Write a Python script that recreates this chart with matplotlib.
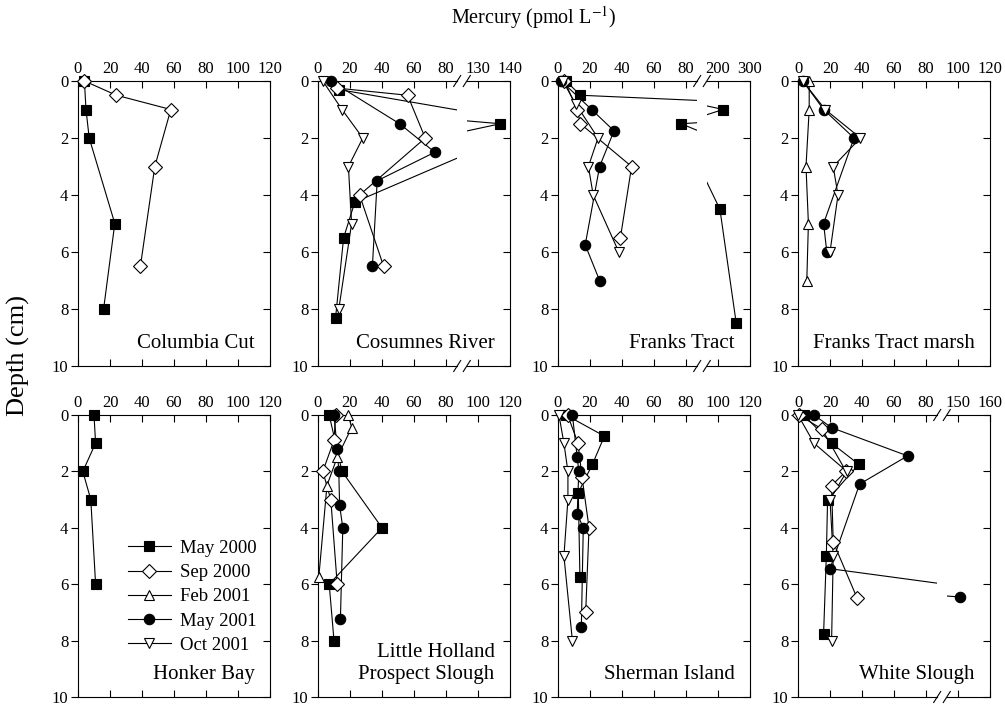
import matplotlib.pyplot as plt
from matplotlib.lines import Line2D

plt.rcParams['font.family'] = ['Liberation Serif', 'DejaVu Serif']
plt.rcParams['mathtext.fontset'] = 'stix'

# sampling campaigns and their symbols
campaigns = ["May 2000", "Sep 2000", "Feb 2001", "May 2001", "Oct 2001"]
markers = ['s', 'D', '^', 'o', 'v']
filled = [True, False, False, True, False]

# --- Hg (pmol/L) and depth (cm) ---
# Columbia Cut
cc_may00_hg = [4, 5, 7, 23, 16]
cc_may00_cm = [0, 1, 2, 5, 8]
cc_sep00_hg = [4, 24, 58, 48, 39]
cc_sep00_cm = [0, 0.5, 1, 3, 6.5]

# Cosumnes River (axis broken at 80 -> 130)
cr_may00_hg = [13, 137, 23, 16, 11]
cr_may00_cm = [0.3, 1.5, 4.25, 5.5, 8.3]
cr_sep00_hg = [12, 56, 67, 26, 41]
cr_sep00_cm = [0.25, 0.5, 2.0, 4.0, 6.5]
cr_may01_hg = [8, 51, 73, 37, 34]
cr_may01_cm = [0, 1.5, 2.5, 3.5, 6.5]
cr_oct01_hg = [3, 15, 28, 19, 21, 13]
cr_oct01_cm = [0, 1, 2, 3, 5, 8]

# Franks Tract (axis broken at 80 -> 200)
ft_may00_hg = [5, 14, 216, 77, 206, 257]
ft_may00_cm = [0, 0.5, 1.0, 1.5, 4.5, 8.5]
ft_sep00_hg = [4, 12, 14, 46, 39]
ft_sep00_cm = [0, 1.0, 1.5, 3.0, 5.5]
ft_may01_hg = [2, 21, 35, 26, 17, 26]
ft_may01_cm = [0, 1.0, 1.75, 3.0, 5.75, 7.0]
ft_oct01_hg = [3, 11, 25, 19, 22, 38]
ft_oct01_cm = [0, 0.8, 2.0, 3.0, 4.0, 6.0]

# Franks Tract marsh
fm_feb01_hg = [7, 7, 5, 6.5, 5.5]
fm_feb01_cm = [0, 1, 3, 5, 7]
fm_may01_hg = [3, 16, 35, 16, 18]
fm_may01_cm = [0, 1, 2, 5, 6]
fm_oct01_hg = [3, 17, 39, 22, 25, 20]
fm_oct01_cm = [0, 1, 2, 3, 4, 6]

# Honker Bay
hb_may00_hg = [10, 11, 3, 8, 11]
hb_may00_cm = [0, 1, 2, 3, 6]

# Little Holland / Prospect Slough
lh_may00_hg = [7, 15, 40, 7, 10]
lh_may00_cm = [0, 2, 4, 6, 8]
lh_sep00_hg = [11, 10, 3, 8, 12]
lh_sep00_cm = [0, 0.9, 2.0, 3.0, 6.0]
lh_feb01_hg = [19, 21, 12, 5.6, 0.5]
lh_feb01_cm = [0, 0.45, 1.5, 2.5, 5.75]
lh_may01_hg = [10, 12, 13, 13.5, 15.5, 14]
lh_may01_cm = [0, 1.2, 2.0, 3.2, 4.0, 7.25]

# Sherman Island
si_may00_hg = [5, 29, 21.5, 12.7, 13.7]
si_may00_cm = [0, 0.75, 1.75, 2.75, 5.75]
si_sep00_hg = [6, 12.5, 15, 19.4, 17.3]
si_sep00_cm = [0, 1, 2.2, 4, 7]
si_may01_hg = [9, 12, 13, 12, 15.8, 14.6]
si_may01_cm = [0, 1.5, 2, 3.5, 4, 7.5]
si_oct01_hg = [0.6, 3.7, 6.2, 6.2, 3.7, 9]
si_oct01_cm = [0, 1, 2, 3, 5, 8]

# White Slough (axis broken at 80 -> 150)
ws_may00_hg = [3.5, 21, 38, 18.5, 17.7, 16]
ws_may00_cm = [0, 1, 1.75, 3, 5, 7.75]
ws_sep00_hg = [0.5, 15, 30, 21, 22, 37]
ws_sep00_cm = [0, 0.5, 2.0, 2.5, 4.5, 6.5]
ws_may01_hg = [10, 21, 68.5, 38.5, 20, 150.5]
ws_may01_cm = [0, 0.45, 1.45, 2.45, 5.45, 6.45]
ws_oct01_hg = [0, 10, 30.5, 20, 22, 21]
ws_oct01_cm = [0, 1, 2, 3, 5, 8]

# site name, {campaign index: (hg, depth)}, tick values after the break
sites = [
    ("Columbia Cut", {0: (cc_may00_hg, cc_may00_cm), 1: (cc_sep00_hg, cc_sep00_cm)}, None),
    ("Cosumnes River", {0: (cr_may00_hg, cr_may00_cm), 1: (cr_sep00_hg, cr_sep00_cm),
                        3: (cr_may01_hg, cr_may01_cm), 4: (cr_oct01_hg, cr_oct01_cm)}, (130, 140)),
    ("Franks Tract", {0: (ft_may00_hg, ft_may00_cm), 1: (ft_sep00_hg, ft_sep00_cm),
                      3: (ft_may01_hg, ft_may01_cm), 4: (ft_oct01_hg, ft_oct01_cm)}, (200, 300)),
    ("Franks Tract marsh", {2: (fm_feb01_hg, fm_feb01_cm), 3: (fm_may01_hg, fm_may01_cm),
                            4: (fm_oct01_hg, fm_oct01_cm)}, None),
    ("Honker Bay", {0: (hb_may00_hg, hb_may00_cm)}, None),
    ("Little Holland\nProspect Slough", {0: (lh_may00_hg, lh_may00_cm), 1: (lh_sep00_hg, lh_sep00_cm),
                                         2: (lh_feb01_hg, lh_feb01_cm), 3: (lh_may01_hg, lh_may01_cm)}, None),
    ("Sherman Island", {0: (si_may00_hg, si_may00_cm), 1: (si_sep00_hg, si_sep00_cm),
                        3: (si_may01_hg, si_may01_cm), 4: (si_oct01_hg, si_oct01_cm)}, None),
    ("White Slough", {0: (ws_may00_hg, ws_may00_cm), 1: (ws_sep00_hg, ws_sep00_cm),
                      3: (ws_may01_hg, ws_may01_cm), 4: (ws_oct01_hg, ws_oct01_cm)}, (150, 160)),
]

FS_TICK = 12
MS = 7.5
BRK_LO, BRK_HI = 87.0, 93.0   # break position in "display units" (full panel = 0..120)


def right_value(d, brk):
    # convert a display position (0..120) into a data value of the right segment
    v100, v120 = brk
    return v100 + (d - 100) * (v120 - v100) / 20.0


def draw_series(ax, series, lo, hi):
    for k, (hg, cm) in series.items():
        ax.plot(hg, cm, '-', color='k', lw=0.8, zorder=2)
        pts = [(x, y) for x, y in zip(hg, cm) if lo - 1e-9 <= x <= hi + 1e-9]
        if not pts:
            continue
        xs, ys = zip(*pts)
        ms = MS - 0.8 if markers[k] == 'D' else MS
        ax.plot(xs, ys, ls='none', marker=markers[k], ms=ms,
                mfc='k' if filled[k] else 'white', mec='k', mew=0.8,
                clip_on=False, zorder=3)


def style_axes(ax, left_labels=True, right_ticks=True):
    ax.set_ylim(10, 0)
    ax.set_yticks([0, 2, 4, 6, 8, 10])
    ax.xaxis.set_ticks_position('both')
    ax.tick_params(axis='x', direction='in', top=True, bottom=True, labeltop=True,
                   labelbottom=False, length=5, width=0.8, pad=3, labelsize=FS_TICK)
    if left_labels:
        ax.tick_params(axis='y', direction='out', left=True, right=False, length=5,
                       width=0.8, pad=2, labelsize=FS_TICK)
    else:
        ax.tick_params(axis='y', left=False, right=False, labelleft=False)
    if right_ticks:
        sec = ax.secondary_yaxis('right')
        sec.set_yticks([0, 2, 4, 6, 8, 10])
        sec.tick_params(direction='in', length=5, width=0.8, labelright=False)
        sec.spines['right'].set_visible(False)
    for s in ax.spines.values():
        s.set_linewidth(0.8)


fig = plt.figure(figsize=(10.05, 7.06), dpi=100)

W = 192 / 1005
lefts = [(78 + 240 * i) / 1005 for i in range(4)]
rows = [((706 - 366) / 706, 285 / 706), ((706 - 697) / 706, 282 / 706)]

for idx, (name, series, brk) in enumerate(sites):
    x0 = lefts[idx % 4]
    y0, H = rows[idx // 4]
    if brk is None:
        ax = fig.add_axes([x0, y0, W, H])
        draw_series(ax, series, 0, 120)
        ax.set_xlim(0, 120)
        ax.set_xticks([0, 20, 40, 60, 80, 100, 120])
        style_axes(ax)
    else:
        axl = fig.add_axes([x0, y0, W * BRK_LO / 120, H])
        draw_series(axl, series, 0, BRK_LO)
        axl.set_xlim(0, BRK_LO)
        axl.set_xticks([0, 20, 40, 60, 80])
        style_axes(axl, right_ticks=False)
        axl.spines['right'].set_visible(False)

        axr = fig.add_axes([x0 + W * BRK_HI / 120, y0, W * (120 - BRK_HI) / 120, H])
        lo, hi = right_value(BRK_HI, brk), right_value(120, brk)
        draw_series(axr, series, lo, hi)
        axr.set_xlim(lo, hi)
        axr.set_xticks(list(brk))
        axr.set_xticklabels([str(v) for v in brk])
        style_axes(axr, left_labels=False)
        axr.spines['left'].set_visible(False)

        # break marks on top and bottom spines
        dx, dy = 3.5 / 1005, 5.5 / 706
        for d in (BRK_LO, BRK_HI):
            xb = x0 + W * d / 120
            for yb in (y0, y0 + H):
                fig.add_artist(Line2D([xb - dx, xb + dx], [yb - dy, yb + dy],
                                      color='k', lw=0.8, transform=fig.transFigure))

    fig.text(x0 + W * 0.92, y0 + H * 0.063, name, ha='right', va='baseline',
             fontsize=15, multialignment='right')

    if name == "Honker Bay":
        handles = [Line2D([], [], color='k', lw=0.8, marker=m,
                          ms=MS - 0.8 if m == 'D' else MS,
                          mfc='k' if f else 'white', mec='k', mew=0.8)
                   for m, f in zip(markers, filled)]
        ax.legend(handles, campaigns, loc='center left', bbox_to_anchor=(0.26, 0.355),
                  frameon=False, fontsize=13.5, handlelength=2.3, handletextpad=0.5,
                  labelspacing=0.38, borderpad=0, borderaxespad=0)

fig.text(0.531, 0.9745, 'Mercury (pmol L$^{-1}$)', ha='center', va='center', fontsize=14.5)
fig.text(0.018, 0.497, 'Depth (cm)', rotation=90, ha='center', va='center', fontsize=19)

fig.savefig('out.png', dpi=100)
